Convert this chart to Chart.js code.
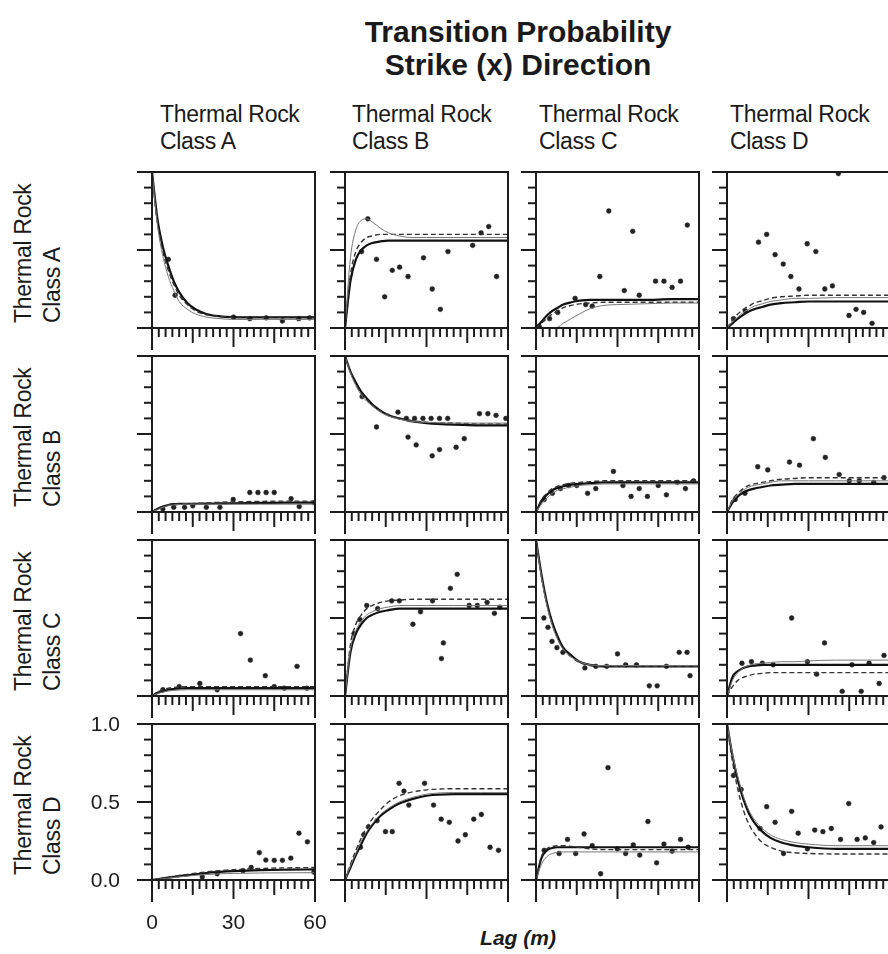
<!DOCTYPE html>
<html>
<head>
<meta charset="utf-8">
<script src="https://cdn.jsdelivr.net/npm/chart.js@4.4.1/dist/chart.umd.min.js"></script>
<style>
html,body{margin:0;padding:0;background:#fff;}
#wrap{position:relative;width:888px;height:954px;overflow:hidden;font-family:"Liberation Sans",Arial,sans-serif;color:#1a1a1a;}
.title{position:absolute;left:218px;top:15px;width:600px;text-align:center;font-weight:bold;font-size:30px;line-height:33px;}
.colhead{position:absolute;top:101px;font-size:23px;line-height:27px;white-space:pre;letter-spacing:-0.3px;}
.rowhead{position:absolute;left:9px;font-size:23px;line-height:29px;white-space:pre;transform-origin:0 0;transform:rotate(-90deg);letter-spacing:-0.3px;}
.lag{position:absolute;left:418px;top:926px;width:200px;text-align:center;font-weight:bold;font-style:italic;font-size:21px;}
canvas{position:absolute;}
</style>
</head>
<body>
<div id="wrap">
  <div class="title">Transition Probability<br>Strike (x) Direction</div>
  <div class="lag">Lag (m)</div>
</div>
<script>
// ---------------- data ----------------
const CLASSES = ['A', 'B', 'C', 'D'];
const HEAD_LINE1 = 'Thermal Rock';
const X_TICK_LABELS = ['0', '30', '60'];
const X_TICK_VALUES = [0, 30, 60];
const Y_TICK_LABELS = ['1.0', '0.5', '0.0'];
const Y_TICK_VALUES = [1.0, 0.5, 0.0];

// lags at which the model curves were read (m)
const LAGS = [0, 2, 4, 6, 8, 10, 13, 16, 20, 25, 30, 40, 50, 60];

// FIT1 = thick solid, FIT2 = thin solid, FIT3 = dashed ; OBS = measured points [lag, p]
const FIT1_AA = [1.0, 0.70, 0.52, 0.40, 0.30, 0.23, 0.16, 0.12, 0.09, 0.075, 0.07, 0.068, 0.068, 0.068];
const FIT2_AA = [1.0, 0.66, 0.46, 0.33, 0.24, 0.17, 0.12, 0.09, 0.07, 0.06, 0.055, 0.055, 0.055, 0.055];
const FIT3_AA = [1.0, 0.68, 0.49, 0.37, 0.28, 0.21, 0.15, 0.11, 0.085, 0.075, 0.07, 0.07, 0.07, 0.07];
const OBS_AA = [[6, 0.44], [8.5, 0.21], [30, 0.07], [36, 0.06], [42, 0.065], [48, 0.045], [54, 0.06], [58, 0.065]];

const FIT1_AB = [0, 0.30, 0.44, 0.50, 0.53, 0.545, 0.555, 0.56, 0.56, 0.56, 0.56, 0.56, 0.56, 0.56];
const FIT2_AB = [0, 0.45, 0.63, 0.69, 0.70, 0.68, 0.64, 0.61, 0.59, 0.58, 0.58, 0.58, 0.58, 0.58];
const FIT3_AB = [0, 0.34, 0.49, 0.55, 0.58, 0.59, 0.6, 0.6, 0.6, 0.6, 0.6, 0.6, 0.6, 0.6];
const OBS_AB = [[6.1, 0.49], [8.4, 0.70], [11.6, 0.44], [14.6, 0.20], [17.4, 0.37], [20.1, 0.39], [23.2, 0.33], [28.9, 0.45], [32.1, 0.25], [35.1, 0.12], [37.9, 0.49], [47, 0.53], [50.1, 0.61], [52.9, 0.65], [55.8, 0.33]];

const FIT1_AC = [0, 0.04, 0.08, 0.11, 0.13, 0.15, 0.165, 0.175, 0.18, 0.18, 0.18, 0.18, 0.185, 0.185];
const FIT2_AC = [0, 0, 0, 0, 0.005, 0.03, 0.06, 0.09, 0.125, 0.145, 0.15, 0.155, 0.16, 0.16];
const FIT3_AC = [0, 0.03, 0.06, 0.09, 0.11, 0.13, 0.145, 0.155, 0.16, 0.165, 0.165, 0.165, 0.165, 0.165];
const OBS_AC = [[1.2, 0.01], [5, 0.06], [8, 0.1], [14.4, 0.19], [18.3, 0.15], [20.7, 0.14], [23.5, 0.33], [26.8, 0.75], [32.5, 0.24], [35.6, 0.62], [38, 0.21], [44, 0.30], [47.1, 0.30], [50.1, 0.26], [53.2, 0.30], [55.7, 0.66]];

const FIT1_AD = [0, 0.03, 0.06, 0.085, 0.105, 0.12, 0.135, 0.15, 0.16, 0.165, 0.17, 0.17, 0.17, 0.17];
const FIT2_AD = [0, 0.04, 0.07, 0.10, 0.12, 0.14, 0.155, 0.17, 0.18, 0.19, 0.19, 0.195, 0.195, 0.195];
const FIT3_AD = [0, 0.05, 0.09, 0.12, 0.14, 0.16, 0.175, 0.19, 0.2, 0.205, 0.21, 0.21, 0.21, 0.21];
const OBS_AD = [[2.4, 0.06], [6.7, 0.11], [11.6, 0.55], [14.6, 0.60], [17.7, 0.47], [20.7, 0.41], [23.5, 0.33], [26.5, 0.25], [29.5, 0.54], [32.7, 0.49], [36, 0.25], [38.8, 0.27], [41, 0.99], [44.9, 0.08], [47.5, 0.12], [50.3, 0.10], [53.4, 0.03]];

const FIT1_BA = [0, 0.02, 0.035, 0.045, 0.05, 0.052, 0.053, 0.053, 0.054, 0.055, 0.056, 0.058, 0.06, 0.06];
const FIT2_BA = [0, 0.015, 0.03, 0.04, 0.045, 0.048, 0.05, 0.05, 0.05, 0.05, 0.05, 0.05, 0.05, 0.05];
const FIT3_BA = [0, 0.02, 0.035, 0.045, 0.05, 0.052, 0.053, 0.055, 0.058, 0.062, 0.065, 0.068, 0.07, 0.07];
const OBS_BA = [[4, 0.02], [8, 0.03], [12, 0.03], [15, 0.04], [20, 0.03], [25, 0.03], [29.9, 0.08], [36, 0.125], [39, 0.125], [42, 0.125], [45, 0.125], [51.2, 0.085], [54.2, 0.035], [59.7, 0.06]];

const FIT1_BB = [1.0, 0.90, 0.83, 0.77, 0.73, 0.69, 0.65, 0.62, 0.60, 0.58, 0.57, 0.56, 0.555, 0.555];
const FIT2_BB = [1.0, 0.89, 0.81, 0.75, 0.71, 0.68, 0.64, 0.615, 0.595, 0.58, 0.575, 0.57, 0.57, 0.57];
const FIT3_BB = [1.0, 0.90, 0.82, 0.76, 0.72, 0.685, 0.65, 0.625, 0.60, 0.585, 0.575, 0.57, 0.565, 0.565];
const OBS_BB = [[6.3, 0.74], [11.6, 0.545], [19.5, 0.64], [22.6, 0.6], [25.6, 0.6], [28.7, 0.6], [31.7, 0.6], [34.8, 0.6], [37.8, 0.6], [23.2, 0.48], [26.2, 0.43], [32.1, 0.36], [34.8, 0.40], [40.9, 0.415], [43.9, 0.47], [49.5, 0.63], [52.6, 0.63], [55.6, 0.62], [59.2, 0.6]];

const FIT1_BC = [0, 0.07, 0.11, 0.14, 0.155, 0.165, 0.175, 0.18, 0.185, 0.19, 0.19, 0.19, 0.19, 0.19];
const FIT2_BC = [0, 0.05, 0.09, 0.12, 0.14, 0.15, 0.16, 0.17, 0.175, 0.18, 0.18, 0.18, 0.18, 0.18];
const FIT3_BC = [0, 0.08, 0.12, 0.15, 0.165, 0.175, 0.185, 0.19, 0.195, 0.2, 0.2, 0.2, 0.2, 0.2];
const OBS_BC = [[3, 0.08], [6, 0.12], [9, 0.15], [12, 0.17], [15, 0.17], [19, 0.12], [22, 0.15], [28.5, 0.26], [32, 0.17], [35, 0.1], [38, 0.15], [41, 0.1], [45, 0.17], [48, 0.11], [52, 0.19], [55, 0.15], [58, 0.2]];

const FIT1_BD = [0, 0.06, 0.10, 0.125, 0.14, 0.15, 0.16, 0.17, 0.175, 0.18, 0.18, 0.18, 0.18, 0.18];
const FIT2_BD = [0, 0.07, 0.11, 0.14, 0.16, 0.17, 0.18, 0.19, 0.2, 0.2, 0.2, 0.2, 0.2, 0.2];
const FIT3_BD = [0, 0.08, 0.12, 0.15, 0.17, 0.18, 0.19, 0.2, 0.21, 0.215, 0.22, 0.22, 0.22, 0.22];
const OBS_BD = [[3, 0.08], [6.6, 0.12], [11.3, 0.29], [15, 0.27], [23, 0.32], [26.7, 0.30], [31.8, 0.47], [36.2, 0.35], [41.3, 0.24], [45, 0.2], [48.7, 0.2], [54, 0.19], [57.8, 0.22]];

const FIT1_CA = [0, 0.02, 0.03, 0.04, 0.045, 0.048, 0.05, 0.05, 0.05, 0.05, 0.05, 0.05, 0.05, 0.05];
const FIT2_CA = [0, 0.015, 0.025, 0.032, 0.036, 0.038, 0.04, 0.04, 0.04, 0.04, 0.04, 0.04, 0.04, 0.04];
const FIT3_CA = [0, 0.025, 0.04, 0.05, 0.055, 0.058, 0.06, 0.06, 0.06, 0.06, 0.06, 0.06, 0.06, 0.06];
const OBS_CA = [[4, 0.04], [10, 0.06], [17.6, 0.08], [24, 0.04], [32.6, 0.40], [36.2, 0.23], [41.7, 0.13], [45, 0.06], [48.7, 0.05], [53.4, 0.19], [57, 0.05]];

const FIT1_CB = [0, 0.28, 0.40, 0.46, 0.50, 0.52, 0.54, 0.55, 0.56, 0.56, 0.56, 0.56, 0.56, 0.56];
const FIT2_CB = [0, 0.30, 0.42, 0.48, 0.52, 0.54, 0.56, 0.57, 0.58, 0.58, 0.58, 0.58, 0.58, 0.58];
const FIT3_CB = [0, 0.33, 0.46, 0.52, 0.56, 0.58, 0.60, 0.61, 0.615, 0.62, 0.62, 0.62, 0.62, 0.62];
const OBS_CB = [[3.3, 0.40], [5.5, 0.49], [8, 0.58], [12, 0.56], [17.2, 0.61], [20, 0.61], [25, 0.46], [27.8, 0.54], [32.2, 0.61], [35.5, 0.24], [36.2, 0.34], [38.8, 0.69], [41.3, 0.78], [45.7, 0.58], [48.7, 0.58], [52.3, 0.6], [55, 0.53], [57, 0.57]];

const FIT1_CC = [1.0, 0.78, 0.60, 0.47, 0.38, 0.31, 0.26, 0.22, 0.20, 0.19, 0.19, 0.19, 0.19, 0.19];
const FIT2_CC = [1.0, 0.76, 0.58, 0.45, 0.36, 0.30, 0.25, 0.22, 0.20, 0.195, 0.195, 0.195, 0.195, 0.195];
const FIT3_CC = [1.0, 0.77, 0.59, 0.46, 0.37, 0.30, 0.25, 0.215, 0.195, 0.19, 0.19, 0.19, 0.19, 0.19];
const OBS_CC = [[2.9, 0.5], [4.4, 0.44], [5.9, 0.35], [7.7, 0.31], [9.9, 0.28], [18, 0.18], [22, 0.19], [26, 0.19], [30, 0.27], [33, 0.2], [37, 0.2], [41.7, 0.065], [44.6, 0.065], [48, 0.19], [52.7, 0.28], [55.6, 0.28], [56.7, 0.13]];

const FIT1_CD = [0, 0.12, 0.16, 0.18, 0.19, 0.195, 0.2, 0.2, 0.2, 0.2, 0.2, 0.2, 0.2, 0.2];
const FIT2_CD = [0, 0.10, 0.15, 0.18, 0.195, 0.205, 0.21, 0.215, 0.22, 0.22, 0.225, 0.23, 0.23, 0.23];
const FIT3_CD = [0, 0.06, 0.10, 0.12, 0.13, 0.14, 0.145, 0.15, 0.15, 0.15, 0.15, 0.15, 0.15, 0.15];
const OBS_CD = [[5.5, 0.21], [9, 0.22], [13, 0.21], [17, 0.2], [23.8, 0.5], [29.6, 0.22], [33, 0.14], [35.9, 0.34], [42.4, 0.03], [46, 0.2], [49.4, 0.03], [52.3, 0.21], [56, 0.08], [57.8, 0.26]];

const FIT1_DA = [0, 0.005, 0.01, 0.015, 0.02, 0.025, 0.03, 0.037, 0.045, 0.052, 0.057, 0.063, 0.066, 0.068];
const FIT2_DA = [0, 0.004, 0.008, 0.012, 0.016, 0.02, 0.025, 0.03, 0.035, 0.04, 0.042, 0.045, 0.046, 0.047];
const FIT3_DA = [0, 0.006, 0.012, 0.018, 0.024, 0.03, 0.036, 0.044, 0.052, 0.06, 0.066, 0.074, 0.078, 0.08];
const OBS_DA = [[18.5, 0.02], [24, 0.04], [33.5, 0.06], [36.5, 0.08], [39.5, 0.175], [41.9, 0.128], [45, 0.126], [48, 0.126], [51.1, 0.14], [54.1, 0.30], [57.2, 0.245], [59.6, 0.05]];

const FIT1_DB = [0, 0.08, 0.16, 0.23, 0.30, 0.35, 0.41, 0.45, 0.49, 0.52, 0.54, 0.55, 0.55, 0.55];
const FIT2_DB = [0, 0.09, 0.17, 0.25, 0.31, 0.36, 0.42, 0.46, 0.50, 0.53, 0.55, 0.56, 0.56, 0.56];
const FIT3_DB = [0, 0.10, 0.19, 0.27, 0.34, 0.39, 0.45, 0.50, 0.54, 0.565, 0.578, 0.585, 0.585, 0.585];
const OBS_DB = [[5.7, 0.21], [6.9, 0.29], [8.7, 0.34], [11.8, 0.38], [14.9, 0.31], [17.4, 0.31], [19.9, 0.62], [21.7, 0.57], [23.5, 0.48], [29.3, 0.62], [32.6, 0.48], [35.4, 0.39], [38.4, 0.37], [41.6, 0.25], [44.3, 0.29], [47.4, 0.39], [50.2, 0.42], [53.4, 0.21], [56.5, 0.19]];

const FIT1_DC = [0, 0.14, 0.19, 0.205, 0.21, 0.21, 0.21, 0.21, 0.21, 0.21, 0.21, 0.21, 0.21, 0.21];
const FIT2_DC = [0, 0.10, 0.15, 0.17, 0.178, 0.18, 0.18, 0.18, 0.18, 0.18, 0.18, 0.18, 0.18, 0.18];
const FIT3_DC = [0, 0.15, 0.20, 0.215, 0.22, 0.22, 0.215, 0.21, 0.2, 0.195, 0.195, 0.195, 0.195, 0.195];
const OBS_DC = [[3, 0.19], [8.5, 0.17], [11.6, 0.26], [14.6, 0.17], [17.7, 0.295], [20.7, 0.22], [23.8, 0.04], [26.5, 0.72], [29.9, 0.2], [33, 0.17], [35.8, 0.225], [38.2, 0.16], [41.2, 0.375], [44.4, 0.11], [47.1, 0.23], [50.1, 0.185], [53.2, 0.26], [56, 0.21]];

const FIT1_DD = [1.0, 0.80, 0.64, 0.52, 0.43, 0.37, 0.31, 0.27, 0.24, 0.22, 0.21, 0.20, 0.20, 0.20];
const FIT2_DD = [1.0, 0.81, 0.66, 0.54, 0.45, 0.39, 0.33, 0.29, 0.26, 0.24, 0.23, 0.22, 0.22, 0.22];
const FIT3_DD = [1.0, 0.76, 0.58, 0.45, 0.36, 0.30, 0.24, 0.21, 0.185, 0.175, 0.17, 0.167, 0.167, 0.167];
const OBS_DD = [[2.4, 0.67], [5.2, 0.58], [12.2, 0.33], [14.6, 0.47], [17.7, 0.37], [20.8, 0.17], [23.8, 0.44], [26.2, 0.30], [29.6, 0.20], [32.3, 0.32], [35.3, 0.31], [38.4, 0.33], [41.8, 0.26], [44.8, 0.49], [47.9, 0.26], [50.9, 0.27], [54, 0.24], [56.7, 0.34]];

// lookup table built from the named arrays
const PANEL_DATA = {
  AA: [FIT1_AA, FIT2_AA, FIT3_AA, OBS_AA], AB: [FIT1_AB, FIT2_AB, FIT3_AB, OBS_AB],
  AC: [FIT1_AC, FIT2_AC, FIT3_AC, OBS_AC], AD: [FIT1_AD, FIT2_AD, FIT3_AD, OBS_AD],
  BA: [FIT1_BA, FIT2_BA, FIT3_BA, OBS_BA], BB: [FIT1_BB, FIT2_BB, FIT3_BB, OBS_BB],
  BC: [FIT1_BC, FIT2_BC, FIT3_BC, OBS_BC], BD: [FIT1_BD, FIT2_BD, FIT3_BD, OBS_BD],
  CA: [FIT1_CA, FIT2_CA, FIT3_CA, OBS_CA], CB: [FIT1_CB, FIT2_CB, FIT3_CB, OBS_CB],
  CC: [FIT1_CC, FIT2_CC, FIT3_CC, OBS_CC], CD: [FIT1_CD, FIT2_CD, FIT3_CD, OBS_CD],
  DA: [FIT1_DA, FIT2_DA, FIT3_DA, OBS_DA], DB: [FIT1_DB, FIT2_DB, FIT3_DB, OBS_DB],
  DC: [FIT1_DC, FIT2_DC, FIT3_DC, OBS_DC], DD: [FIT1_DD, FIT2_DD, FIT3_DD, OBS_DD]
};

// ---------------- layout (not data) ----------------
const COL_LEFT = [152, 345, 536, 727];
const ROW_TOP = [172, 356, 540, 724];
const PW = 163, PH = 156;
const PAD = {left: 70, right: 20, top: 8, bottom: 60};
const HEAD_LEFT = [160, 352, 539, 730];
const INK = '#1c1c1c';

const wrap = document.getElementById('wrap');

CLASSES.forEach((c, i) => {
  const d = document.createElement('div');
  d.className = 'colhead';
  d.style.left = HEAD_LEFT[i] + 'px';
  d.textContent = HEAD_LINE1 + '\nClass ' + c;
  wrap.appendChild(d);
  const r = document.createElement('div');
  r.className = 'rowhead';
  r.style.top = (ROW_TOP[i] + PH - 5) + 'px';
  r.textContent = HEAD_LINE1 + '\nClass ' + c;
  wrap.appendChild(r);
});

const framePlugin = {
  id: 'frame',
  afterDatasetsDraw(chart, args, opts) {
    const {ctx, chartArea: a, scales: {x, y}} = chart;
    const y0 = y.getPixelForValue(0);
    const L = a.left, R = x.getPixelForValue(60), T = y.getPixelForValue(1);
    ctx.save();
    ctx.strokeStyle = INK;
    ctx.lineCap = 'butt';
    const seg = (x1, y1, x2, y2, w) => { ctx.lineWidth = w; ctx.beginPath(); ctx.moveTo(x1, y1); ctx.lineTo(x2, y2); ctx.stroke(); };
    // frame
    seg(L, T - 1, L, y0 + 22, 2);
    seg(R, T - 1, R, y0 + 22, 2);
    seg(L - 15, T, R + 1, T, 2);
    seg(L - 15, y0, R + 1, y0, 2);
    // y ticks
    for (let k = 1; k < 10; k++) {
      const v = k / 10;
      const len = (k === 5) ? 15 : 8;
      const py = y.getPixelForValue(v);
      seg(L - len, py, L, py, 2);
    }
    // x ticks (hang below zero line)
    for (let k = 1; k < 24; k++) {
      const v = k * 2.5;
      let len = 9;
      if (v === 15 || v === 45) len = 15;
      if (v === 30) len = 19;
      const px = x.getPixelForValue(v);
      seg(px, y0, px, y0 + len, 2);
    }
    if (opts.labels) {
      ctx.fillStyle = INK;
      ctx.font = '21px "Liberation Sans", Arial, sans-serif';
      ctx.textAlign = 'center';
      ctx.textBaseline = 'middle';
      X_TICK_VALUES.forEach((v, i) => ctx.fillText(X_TICK_LABELS[i], x.getPixelForValue(v), y0 + 43));
      ctx.textAlign = 'right';
      Y_TICK_VALUES.forEach((v, i) => ctx.fillText(Y_TICK_LABELS[i], L - 32, y.getPixelForValue(v) + 1));
    }
    ctx.restore();
  }
};

const lineDs = (vals, w, color, dash) => ({
  type: 'line',
  data: LAGS.map((lag, i) => ({x: lag, y: vals[i]})),
  borderColor: color, borderWidth: w, borderDash: dash || [],
  pointRadius: 0, fill: false, tension: 0.4, cubicInterpolationMode: 'monotone'
});

CLASSES.forEach((rc, ri) => {
  CLASSES.forEach((cc, ci) => {
    const key = rc + cc;
    const [f1, f2, f3, obs] = PANEL_DATA[key];
    const cv = document.createElement('canvas');
    const W = PAD.left + PW + PAD.right, H = PAD.top + PH + PAD.bottom;
    cv.width = W; cv.height = H;
    cv.style.width = W + 'px'; cv.style.height = H + 'px';
    cv.style.left = (COL_LEFT[ci] - PAD.left) + 'px';
    cv.style.top = (ROW_TOP[ri] - PAD.top) + 'px';
    wrap.appendChild(cv);
    new Chart(cv, {
      type: 'scatter',
      data: {
        datasets: [
          lineDs(f2, 1, '#777'),
          lineDs(f3, 1.4, '#333', [5, 3]),
          lineDs(f1, 2.2, '#111'),
          {
            type: 'scatter',
            data: obs.map(p => ({x: p[0], y: p[1]})),
            pointRadius: 2.4, pointBackgroundColor: '#222', pointBorderColor: '#222', pointBorderWidth: 0.5
          }
        ]
      },
      options: {
        responsive: false, animation: false, devicePixelRatio: 1, events: [],
        layout: {padding: PAD},
        plugins: {legend: {display: false}, tooltip: {enabled: false}, frame: {labels: (ri === 3 && ci === 0)}},
        scales: {
          x: {type: 'linear', min: 0, max: 60, display: false},
          y: {type: 'linear', min: 0, max: 1, display: false}
        }
      },
      plugins: [framePlugin]
    });
  });
});
</script>
</body>
</html>
